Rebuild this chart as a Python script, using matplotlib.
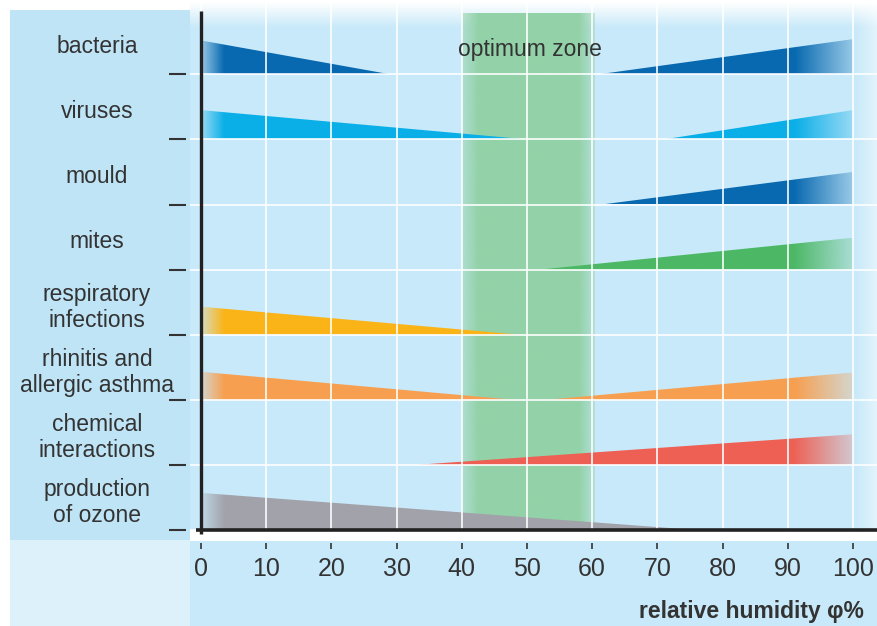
import numpy as np
import matplotlib
matplotlib.use("Agg")
import matplotlib.pyplot as plt
from matplotlib.colors import to_rgb
from matplotlib.patches import Polygon, Rectangle
from matplotlib.transforms import blended_transform_factory

plt.rcParams['font.family'] = ['Liberation Sans', 'DejaVu Sans']

# rows from top to bottom
categories = ['bacteria', 'viruses', 'mould', 'mites',
              'respiratory\ninfections', 'rhinitis and\nallergic asthma',
              'chemical\ninteractions', 'production\nof ozone']
colors = ['#0869b0', '#0aafe8', '#0869b0', '#4cb865',
          '#fbb417', '#f79f50', '#ee6054', '#a2a2aa']
# risk at low humidity: wedge from 0 to low_end, height at 0 (in row units)
low_end = [29, 50, None, None, 49, 48, None, 76]
low_h = [0.52, 0.45, 0, 0, 0.43, 0.43, 0, 0.57]
# risk at high humidity: wedge from high_start to 100, height at 100
high_start = [61, 71, 61.5, 52, None, 53, 33, None]
high_h = [0.54, 0.45, 0.5, 0.49, 0, 0.42, 0.47, 0]
optimum = (40, 60)
xticks = list(range(0, 101, 10))

W, H = 877, 626
fig = plt.figure(figsize=(W / 100, H / 100), dpi=100)
fig.patch.set_facecolor('white')

# left label panel and lower strips
fig.patches.append(Rectangle((10 / W, 86 / H), 180 / W, 530 / H, transform=fig.transFigure,
                             facecolor='#bfe4f6', edgecolor='none', zorder=-1))
fig.patches.append(Rectangle((10 / W, 0), 180 / W, 86 / H, transform=fig.transFigure,
                             facecolor='#ddf1fa', edgecolor='none', zorder=-1))
fig.patches.append(Rectangle((190 / W, 0), 687 / W, 85 / H, transform=fig.transFigure,
                             facecolor='#c8e9f9', edgecolor='none', zorder=-1))

ax = fig.add_axes([190 / W, 96 / H, 687 / W, 530 / H])
ax.patch.set_visible(False)
x0, x1 = -1.7, 103.7
ytop = 530 / 65.1
n = len(categories)

# background with faded top and right edge
ph, pw = 530, 687
vr = np.clip((np.arange(ph) - 2) / 25, 0, 1)[:, None]
hr = np.clip(1 - 0.5 * (np.arange(pw) - 665) / 22, 0.5, 1)[None, :]
bg = np.zeros((ph, pw, 4))
bg[..., :3] = to_rgb('#c8e9f9')
bg[..., 3] = vr * hr
ax.imshow(bg, extent=(x0, x1, 0, ytop), aspect='auto', zorder=0, interpolation='bilinear')

# optimum zone band with soft edges
gx = np.linspace(optimum[0], optimum[1] + 0.4, 200)
ga = (np.clip(0.5 + 0.5 * (gx - optimum[0]) / 2.5, 0, 1)
      * np.clip(1 - 0.6 * (gx - (optimum[1] - 2.0)) / 2.4, 0.4, 1))
gb = np.zeros((1, 200, 4))
gb[..., :3] = to_rgb('#93d2a8')
gb[..., 3] = ga
ax.imshow(gb, extent=(optimum[0], optimum[1] + 0.4, 0, ytop - 13 / 65.1), aspect='auto',
          zorder=1, interpolation='bilinear')


def wedge(xa, xb, base, h, color, tall_left, fade):
    xs = np.linspace(xa, xb, 300)
    if tall_left:
        a = np.clip(0.25 + 0.75 * (xs - xa) / fade, 0, 1)
        verts = [(xa, base), (xa, base + h), (xb, base)]
    else:
        a = np.clip(0.25 + 0.75 * (xb - xs) / fade, 0, 1)
        verts = [(xa, base), (xb, base + h), (xb, base)]
    img = np.zeros((1, 300, 4))
    img[..., :3] = to_rgb(color)
    img[..., 3] = a
    im = ax.imshow(img, extent=(xa, xb, base, base + h), aspect='auto', zorder=2,
                   interpolation='bilinear')
    poly = Polygon(verts, closed=True, facecolor='none', edgecolor='none', transform=ax.transData)
    ax.add_patch(poly)
    im.set_clip_path(poly)


for i, cat in enumerate(categories):
    base = n - 1 - i
    if low_end[i] is not None:
        wedge(0, low_end[i], base, low_h[i], colors[i], True, 3.5)
    if high_start[i] is not None:
        wedge(high_start[i], 100, base, high_h[i], colors[i], False, 9)

ax.set_xlim(x0, x1)
ax.set_ylim(0, ytop)

# grid
ax.set_xticks(xticks)
ax.set_yticks(range(n))
ax.set_axisbelow(False)
ax.grid(True, color='white', lw=1.3, alpha=0.9)

for s in ['top', 'right']:
    ax.spines[s].set_visible(False)
ax.spines['left'].set_position(('outward', 3))
ax.spines['left'].set_visible(False)
ax.spines['bottom'].set_position(('outward', 9))
ax.spines['bottom'].set_visible(False)
ax.tick_params(axis='y', direction='out', length=12, width=1.5, color='#333333', labelleft=False)
ax.tick_params(axis='x', direction='out', length=4.5, width=1.2, color='#333333',
               labelsize=18, labelcolor='#333333', pad=6)

# axis lines
ax.plot([0, 0], [-0.06, 7.97], color='#222222', lw=2.4, solid_capstyle='butt', clip_on=False, zorder=6)
ax.plot([-0.8, x1], [0, 0], color='#222222', lw=2.6, solid_capstyle='butt', clip_on=False, zorder=6)

# category labels
tr = blended_transform_factory(fig.transFigure, ax.transData)
for i, cat in enumerate(categories):
    base = n - 1 - i
    off = 0.12 if '\n' in cat else 0.33
    ax.text(97 / W, base + off, cat, transform=tr, ha='center', va='baseline',
            fontsize=16.5, color='#333333', linespacing=1.17)

ax.text(sum(optimum) / 2 + 0.5, 7.38, 'optimum zone', ha='center', va='center',
        fontsize=16.5, color='#333333', zorder=7)

fig.text(864 / W, (H - 618) / H, 'relative humidity φ%', ha='right', va='baseline',
         fontsize=16.5, fontweight='bold', color='#333333')

fig.savefig('out.png', dpi=100)
